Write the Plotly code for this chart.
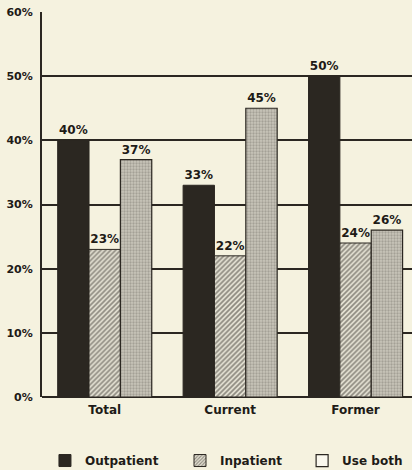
import plotly.graph_objects as go

categories = ["Total", "Current", "Former"]
outpatient = [40, 33, 50]
inpatient = [23, 22, 24]
use_both = [37, 45, 26]
series_names = ["Outpatient", "Inpatient", "Use both"]
y_ticks = [0, 10, 20, 30, 40, 50, 60]

BG = "#f5f2df"
DARK = "#2b2721"
INK = "#1e1b17"
FONT = "DejaVu Sans"

label_font = dict(family=FONT, size=12, color=INK, weight="bold")

fig = go.Figure()

fig.add_trace(go.Bar(
    x=categories, y=outpatient, name=series_names[0], showlegend=False,
    marker=dict(color=DARK, line=dict(color=DARK, width=1)),
    text=[f"{v}%" for v in outpatient], textposition="outside",
    textfont=label_font, cliponaxis=False,
))
fig.add_trace(go.Bar(
    x=categories, y=inpatient, name=series_names[1], showlegend=False,
    marker=dict(color="#e6e3d4", line=dict(color=DARK, width=1),
                pattern=dict(shape="/", fgcolor="#34302a", bgcolor="#e8e5d6",
                             size=3.5, solidity=0.5)),
    text=[f"{v}%" for v in inpatient], textposition="outside",
    textfont=label_font, cliponaxis=False,
))
fig.add_trace(go.Bar(
    x=categories, y=use_both, name=series_names[2], showlegend=False,
    marker=dict(color="#b5b2a6", line=dict(color=DARK, width=1.2),
                pattern=dict(shape=".", fgcolor="#7f7c73", bgcolor="#c8c5b9",
                             size=3, solidity=0.45)),
    text=[f"{v}%" for v in use_both], textposition="outside",
    textfont=label_font, cliponaxis=False,
))

# legend-only traces on a hidden axis (so they don't affect grouping),
# each in its own legend so it can be placed like the reference
legend_styles = [
    dict(color=DARK, line=dict(color=DARK, width=1)),
    dict(color="#e8e5d6", line=dict(color=DARK, width=1),
         pattern=dict(shape="/", fgcolor="#34302a", bgcolor="#e8e5d6", size=3, solidity=0.45)),
    dict(color="#faf8ee", line=dict(color=DARK, width=1.2)),
]
legend_ids = ["legend", "legend2", "legend3"]
legend_x = [0.008, 0.373, 0.703]
for name, st, lid in zip(series_names, legend_styles, legend_ids):
    fig.add_trace(go.Bar(x=[None], y=[None], name=name, marker=st,
                         xaxis="x2", yaxis="y2", showlegend=True, legend=lid))

legend_common = dict(
    orientation="h", xanchor="left", y=-0.165, yanchor="middle",
    font=dict(family=FONT, size=12, weight="bold", color=INK),
    bgcolor="rgba(0,0,0,0)", itemwidth=30, borderwidth=0,
)

fig.update_layout(
    width=412, height=470,
    margin=dict(l=42, r=0, t=12, b=73, autoexpand=False),
    paper_bgcolor=BG, plot_bgcolor=BG,
    barmode="group", bargap=0.25, bargroupgap=0,
    font=dict(family=FONT, color=INK, size=11, weight="bold"),
    xaxis=dict(
        range=[-0.5, 2.45], showgrid=False, showline=False, ticks="",
        tickfont=dict(family=FONT, size=12, weight="bold"), zeroline=False,
        ticklabelstandoff=4,
    ),
    yaxis=dict(
        range=[0, 60], tickvals=y_ticks, ticktext=[f"{v}%" for v in y_ticks],
        showgrid=True, gridcolor=DARK, gridwidth=1.5,
        showline=True, linecolor=DARK, linewidth=2,
        zeroline=True, zerolinecolor=DARK, zerolinewidth=2,
        ticks="", ticklabelstandoff=5,
        tickfont=dict(family=FONT, size=11, weight="bold"),
    ),
    xaxis2=dict(visible=False, overlaying="x", range=[0, 1]),
    yaxis2=dict(visible=False, overlaying="y", range=[0, 1]),
    legend=dict(x=legend_x[0], **legend_common),
    legend2=dict(x=legend_x[1], **legend_common),
    legend3=dict(x=legend_x[2], **legend_common),
)

fig.write_html("out.html")
